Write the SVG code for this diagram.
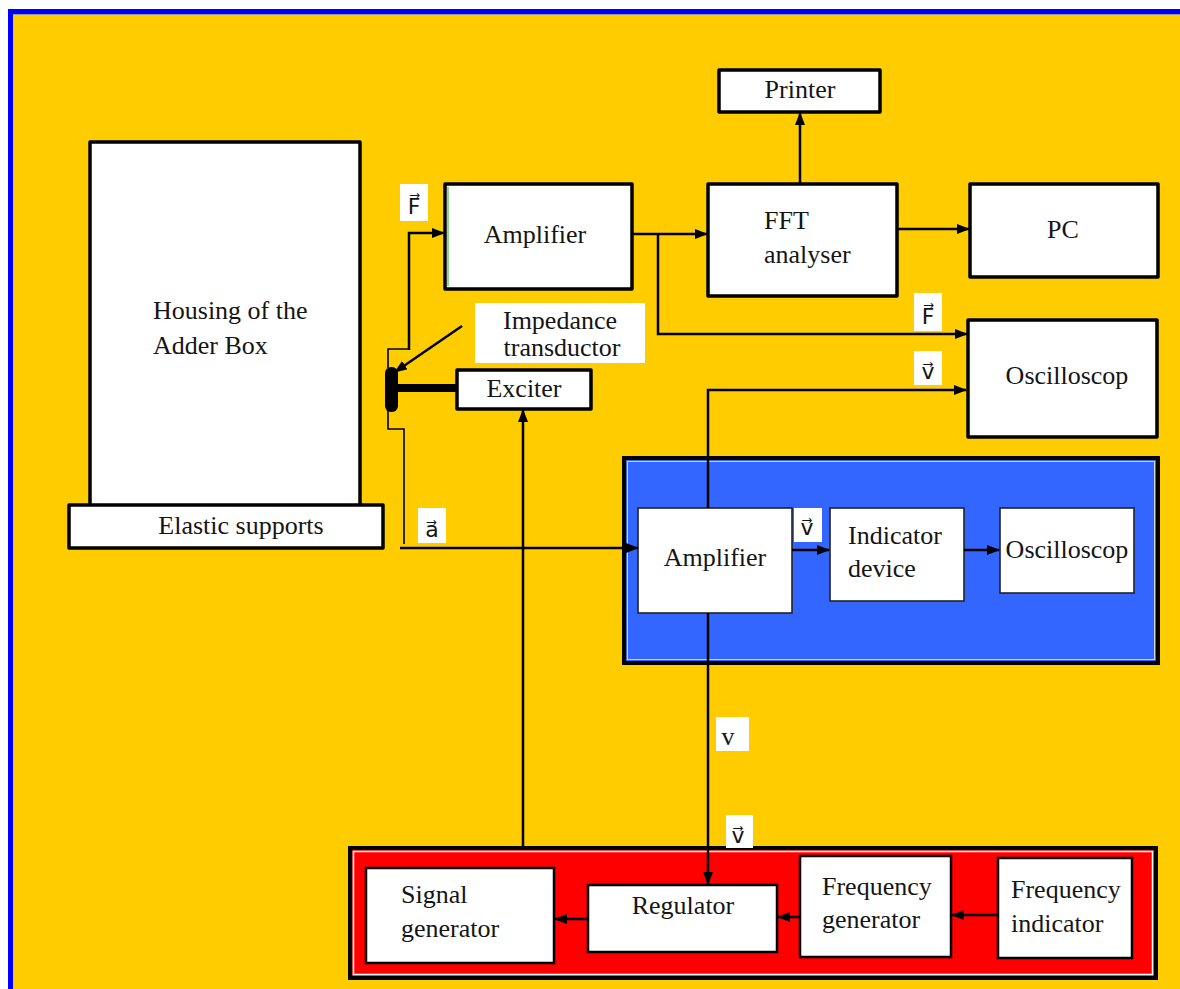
<svg xmlns="http://www.w3.org/2000/svg" width="1180" height="989" viewBox="0 0 1180 989">
  <style>
    .box { fill: #ffffff; stroke: #000000; stroke-width: 3.5; stroke-linejoin: round; }
    .inner { fill: #ffffff; stroke: #222222; stroke-width: 1.6; }
    .redbox { fill: #ffffff; stroke: #000000; stroke-width: 2.5; }
    .lbl { font-family: "Liberation Serif", "Times New Roman", serif; font-size: 26px; fill: #151515; }
    .sym { font-family: "DejaVu Sans", "Liberation Sans", sans-serif; font-size: 22px; fill: #151515; }
    .tag { fill: #ffffff; }
    .wire { fill: none; stroke: #000000; stroke-width: 2.5; }
    .thin { fill: none; stroke: #000000; stroke-width: 1.6; }
  </style>
  <defs>
    <marker id="arrow" markerUnits="userSpaceOnUse" markerWidth="13" markerHeight="10" refX="12" refY="5" orient="auto">
      <path d="M0,0 L13,5 L0,10 z" fill="#000000"/>
    </marker>
  </defs>

  <!-- page frame -->
  <rect x="0" y="0" width="1180" height="989" fill="#ffffff"/>
  <rect x="8" y="9" width="1172" height="980" fill="#0000ff"/>
  <rect x="13" y="14" width="1167" height="975" fill="#ffcc00"/>
  <line x1="13" y1="14.5" x2="1180" y2="14.5" stroke="#999999" stroke-width="1"/>

  <!-- panels -->
  <g id="panel-measure">
    <rect x="624" y="458" width="534" height="205" fill="#3366ff" stroke="#000000" stroke-width="4"/>
    <rect x="627.5" y="461.5" width="527" height="198" fill="none" stroke="#cfd6e6" stroke-width="1"/>
  </g>
  <g id="panel-control">
    <rect x="350" y="848" width="806" height="130" fill="#ff0000" stroke="#000000" stroke-width="4"/>
    <rect x="353.5" y="851.5" width="799" height="123" fill="none" stroke="#ffffff" stroke-width="1.5"/>
  </g>

  <!-- nodes -->
  <g id="housing">
    <rect class="box" x="90" y="142" width="270" height="364"/>
    <text class="lbl" x="153" y="319">Housing of the</text>
    <text class="lbl" x="153" y="354">Adder Box</text>
  </g>
  <g id="elastic-supports">
    <rect class="box" x="69" y="505" width="314" height="43"/>
    <text class="lbl" x="241" y="534" text-anchor="middle">Elastic supports</text>
  </g>
  <g id="amplifier-force">
    <rect class="box" x="445" y="184" width="187" height="105"/>
    <line x1="448" y1="187" x2="448" y2="286" stroke="#22aa22" stroke-width="1"/>
    <text class="lbl" x="535" y="243" text-anchor="middle">Amplifier</text>
  </g>
  <g id="printer">
    <rect class="box" x="719" y="70" width="161" height="42"/>
    <text class="lbl" x="800" y="98" text-anchor="middle">Printer</text>
  </g>
  <g id="fft-analyser">
    <rect class="box" x="708" y="184" width="189" height="112"/>
    <text class="lbl" x="764" y="229">FFT</text>
    <text class="lbl" x="764" y="263">analyser</text>
  </g>
  <g id="pc">
    <rect class="box" x="970" y="184" width="188" height="93"/>
    <text class="lbl" x="1063" y="238" text-anchor="middle">PC</text>
  </g>
  <g id="oscilloscope-top">
    <rect class="box" x="968" y="320" width="189" height="117"/>
    <text class="lbl" x="1067" y="384" text-anchor="middle">Oscilloscop</text>
  </g>
  <g id="impedance-transductor">
    <rect class="tag" x="475" y="303" width="170" height="60"/>
    <text class="lbl" x="560" y="329" text-anchor="middle">Impedance</text>
    <text class="lbl" x="562" y="356" text-anchor="middle">transductor</text>
  </g>
  <g id="transducer">
    <rect x="385" y="367" width="13" height="45" rx="6" fill="#000000"/>
    <rect x="397" y="384" width="61" height="8" fill="#000000"/>
  </g>
  <g id="exciter">
    <rect class="box" x="457" y="370" width="134" height="39"/>
    <text class="lbl" x="524" y="397" text-anchor="middle">Exciter</text>
  </g>
  <g id="amplifier-accel">
    <rect class="inner" x="638" y="508" width="154" height="105"/>
    <text class="lbl" x="715" y="566" text-anchor="middle">Amplifier</text>
  </g>
  <g id="indicator-device">
    <rect class="inner" x="830" y="508" width="134" height="93"/>
    <text class="lbl" x="848" y="544">Indicator</text>
    <text class="lbl" x="848" y="577">device</text>
  </g>
  <g id="oscilloscope-inner">
    <rect class="inner" x="1000" y="508" width="134" height="85"/>
    <text class="lbl" x="1067" y="558" text-anchor="middle">Oscilloscop</text>
  </g>
  <g id="signal-generator">
    <rect class="redbox" x="366" y="868" width="188" height="95"/>
    <text class="lbl" x="401" y="903">Signal</text>
    <text class="lbl" x="401" y="937">generator</text>
  </g>
  <g id="regulator">
    <rect class="redbox" x="588" y="885" width="189" height="67"/>
    <text class="lbl" x="683" y="914" text-anchor="middle">Regulator</text>
  </g>
  <g id="frequency-generator">
    <rect class="redbox" x="800" y="856" width="151" height="101"/>
    <text class="lbl" x="822" y="895">Frequency</text>
    <text class="lbl" x="822" y="928">generator</text>
  </g>
  <g id="frequency-indicator">
    <rect class="redbox" x="998" y="858" width="134" height="100"/>
    <text class="lbl" x="1011" y="898">Frequency</text>
    <text class="lbl" x="1011" y="932">indicator</text>
  </g>

  <!-- connectors -->
  <g id="connectors">
    <path class="thin" d="M388,368 V349 H409"/>
    <path class="wire" d="M409,350 V233 H444" marker-end="url(#arrow)"/>
    <path class="thin" d="M388,411 V429 H404 V544"/>
    <path class="wire" d="M400,548 H638" marker-end="url(#arrow)"/>
    <path class="wire" d="M462,326 L395,372" marker-end="url(#arrow)"/>
    <path class="wire" d="M632,234 H707" marker-end="url(#arrow)"/>
    <path class="wire" d="M658,234 V334 H967" marker-end="url(#arrow)"/>
    <path class="wire" d="M800,183 V113" marker-end="url(#arrow)"/>
    <path class="wire" d="M898,229 H969" marker-end="url(#arrow)"/>
    <path class="wire" d="M708,508 V390 H966" marker-end="url(#arrow)"/>
    <path class="wire" d="M792,550 H829" marker-end="url(#arrow)"/>
    <path class="wire" d="M964,550 H999" marker-end="url(#arrow)"/>
    <path class="wire" d="M708,613 V884" marker-end="url(#arrow)"/>
    <path class="wire" d="M523,847 V410" marker-end="url(#arrow)"/>
    <path class="wire" d="M588,919 H555" marker-end="url(#arrow)"/>
    <path class="wire" d="M800,917 H778" marker-end="url(#arrow)"/>
    <path class="wire" d="M998,915 H952" marker-end="url(#arrow)"/>
  </g>

  <!-- signal labels (vector symbols use a combining arrow above) -->
  <g id="label-F-top">
    <rect class="tag" x="400" y="184" width="28" height="37"/>
    <text class="sym" x="414" y="214" text-anchor="middle">F&#x20D7;</text>
  </g>
  <g id="label-F-osc">
    <rect class="tag" x="914" y="293" width="28" height="38"/>
    <text class="sym" x="928" y="324" text-anchor="middle">F&#x20D7;</text>
  </g>
  <g id="label-v-osc">
    <rect class="tag" x="914" y="351" width="28" height="34"/>
    <text class="sym" x="928" y="379" text-anchor="middle">v&#x20D7;</text>
  </g>
  <g id="label-a">
    <rect class="tag" x="418" y="508" width="28" height="35"/>
    <text class="sym" x="432" y="537" text-anchor="middle">a&#x20D7;</text>
  </g>
  <g id="label-v-ind">
    <rect class="tag" x="794" y="508" width="28" height="34"/>
    <text class="sym" x="807" y="535" text-anchor="middle">v&#x20D7;</text>
  </g>
  <g id="label-v-plain">
    <rect class="tag" x="716" y="717" width="33" height="34"/>
    <text class="lbl" x="728" y="745" text-anchor="middle">v</text>
  </g>
  <g id="label-v-reg">
    <rect class="tag" x="726" y="815" width="27" height="33"/>
    <text class="sym" x="738" y="843" text-anchor="middle">v&#x20D7;</text>
  </g>
</svg>
